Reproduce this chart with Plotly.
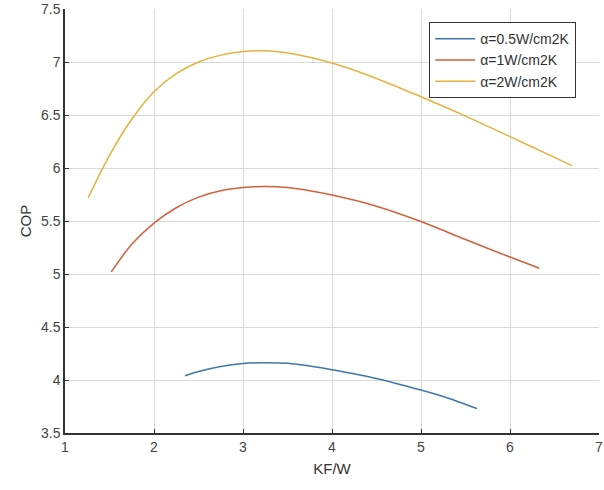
import plotly.graph_objects as go

x_blue = [2.35, 2.5, 2.75, 3.0, 3.25, 3.5, 3.75, 4.0, 4.5, 5.0, 5.3, 5.63]
y_blue = [4.04, 4.08, 4.128, 4.155, 4.163, 4.157, 4.132, 4.097, 4.015, 3.905, 3.83, 3.73]

x_orange = [1.52, 1.75, 2.0, 2.25, 2.5, 2.75, 3.0, 3.25, 3.5, 3.75, 4.0, 4.5, 5.0, 5.5, 6.0, 6.33]
y_orange = [5.02, 5.28, 5.48, 5.625, 5.725, 5.785, 5.815, 5.825, 5.815, 5.785, 5.745, 5.64, 5.495, 5.325, 5.16, 5.054]

x_yellow = [1.26, 1.5, 1.75, 2.0, 2.25, 2.5, 2.75, 3.0, 3.25, 3.5, 3.75, 4.0, 4.5, 5.0, 5.5, 6.0, 6.5, 6.7]
y_yellow = [5.72, 6.12, 6.46, 6.72, 6.89, 7.0, 7.065, 7.098, 7.105, 7.085, 7.045, 6.99, 6.845, 6.672, 6.49, 6.296, 6.1, 6.02]

names = ["α=0.5W/cm2K", "α=1W/cm2K", "α=2W/cm2K"]
colors = ["#3f77ad", "#d2603a", "#e6b23c"]

fig = go.Figure()
for xs, ys, n, c in zip([x_blue, x_orange, x_yellow], [y_blue, y_orange, y_yellow], names, colors):
    fig.add_trace(go.Scatter(x=xs, y=ys, mode="lines", name=n,
                             line=dict(color=c, width=1.5, shape="spline", smoothing=0.8)))

font_fam = "Liberation Sans, Arial"
axis_common = dict(showgrid=True, gridcolor="#d9d9d9", gridwidth=1,
                   showline=True, linecolor="#333333", linewidth=1.5,
                   ticks="inside", ticklen=4, tickcolor="#333333",
                   zeroline=False, ticklabeloverflow="allow",
                   tickfont=dict(family=font_fam, size=14, color="#444444"))

fig.update_layout(
    width=604, height=490,
    paper_bgcolor="white", plot_bgcolor="white",
    margin=dict(l=65, r=1, t=9, b=57),
    xaxis=dict(range=[1, 7], dtick=1,
               title=dict(text="KF/W", font=dict(family=font_fam, size=15, color="#333333"), standoff=10),
               **axis_common),
    yaxis=dict(range=[3.5, 7.5], dtick=0.5,
               title=dict(text="COP", font=dict(family=font_fam, size=15, color="#333333"), standoff=6),
               **axis_common),
    legend=dict(x=0.682, y=0.969, xanchor="left", yanchor="top",
                bgcolor="white", bordercolor="#333333", borderwidth=1,
                font=dict(family=font_fam, size=14, color="#333333"),
                tracegroupgap=0, itemwidth=40),
    showlegend=True,
)

fig.write_html("out.html")
